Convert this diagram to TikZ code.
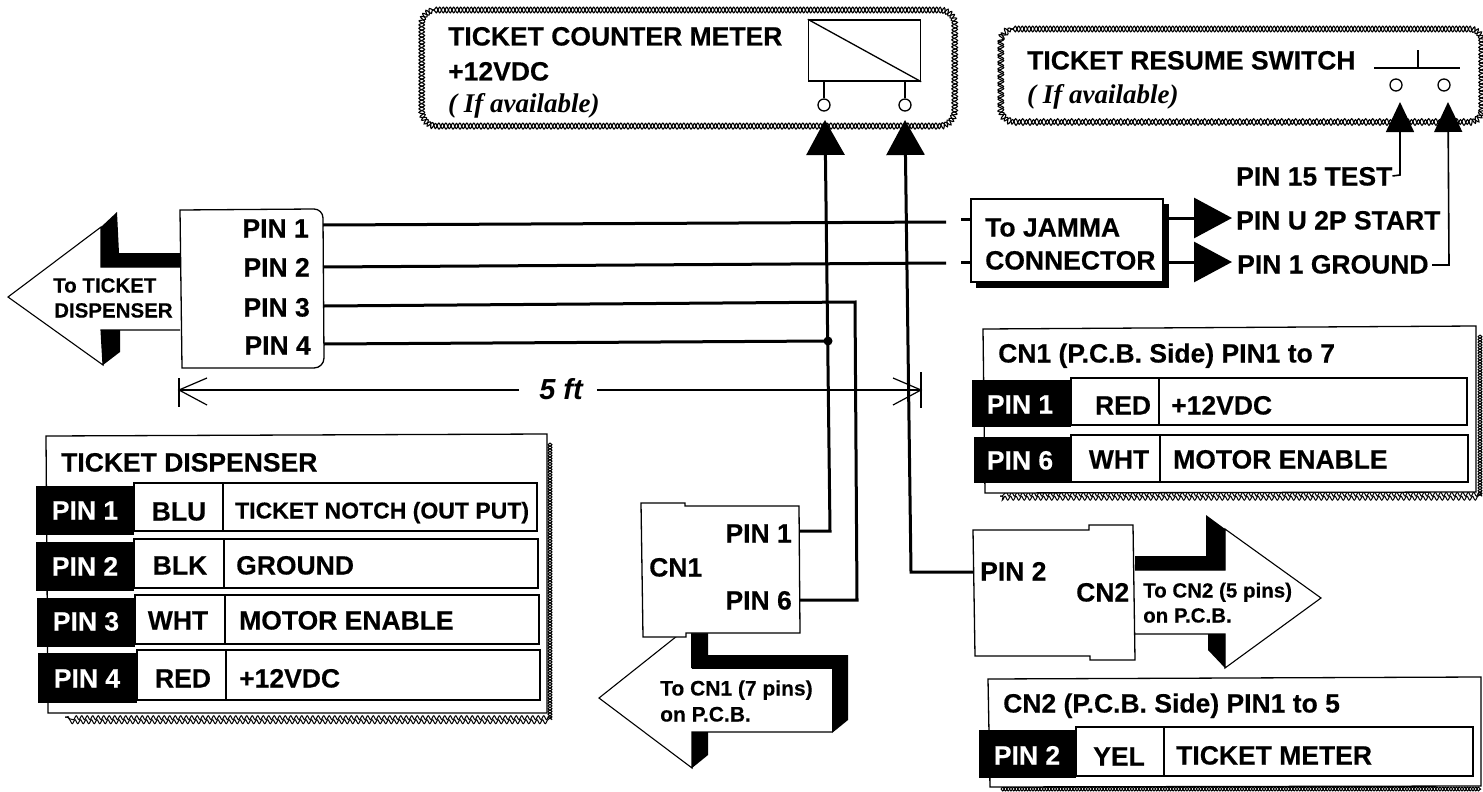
\documentclass[tikz,border=0pt]{standalone}
\usepackage{fontspec}
\setmainfont{Liberation Sans}[BoldFeatures={FakeBold=0.35}]
\newfontfamily\serifit{Liberation Serif}
\usetikzlibrary{arrows.meta,decorations.pathmorphing}
\tikzset{
  lab/.style={inner sep=0pt,font=\bfseries\fontsize{26.5}{30}\selectfont,text height=19pt,text depth=0pt},
  labw/.style={lab,anchor=west},
  labe/.style={lab,anchor=east},
  small/.style={inner sep=0pt,anchor=west,font=\bfseries\fontsize{21}{24}\selectfont,text height=15pt,text depth=0pt},
  note/.style={inner sep=0pt,anchor=west,font=\serifit\bfseries\itshape\fontsize{27}{30}\selectfont,text height=18pt,text depth=0pt},
  wire/.style={draw=black,line width=3pt},
  thin wire/.style={draw=black,line width=1.6pt},
  head/.style={-{Triangle[length=35pt,width=38pt]}},
  shead/.style={-{Triangle[length=30pt,width=28pt]}},
  jhead/.style={-{Triangle[length=38pt,width=40pt]}},
  outline/.style={draw=black,line width=1.3pt,fill=white},
  chainA/.style={draw=black,line width=1.1pt,decorate,decoration={snake,segment length=7pt,amplitude=2.8pt}},
  chainB/.style={draw=black,line width=1.1pt,decorate,decoration={snake,segment length=7pt,amplitude=2.8pt,mirror}},
  shadA/.style={draw=black,line width=1pt,decorate,decoration={snake,segment length=5.5pt,amplitude=2pt}},
  shadB/.style={draw=black,line width=1pt,decorate,decoration={snake,segment length=5.5pt,amplitude=2pt,mirror}},
  pin/.style={circle,draw=black,line width=1.3pt,fill=white,minimum size=12pt,inner sep=0pt},
  dim/.style={draw=black,line width=1.2pt},
  celltxt/.style={inner sep=0pt,font=\bfseries\fontsize{26.5}{30}\selectfont,text height=19pt,text depth=0pt}
}
\newcommand{\tablerow}[8]{%
  \fill[black] (#1) rectangle (#2);
  \draw[outline] (#3) rectangle (#4);
  \draw[line width=1.3pt] (#5) -- (#6);
  #7
  #8
}
\begin{document}
\begin{tikzpicture}[x=1pt,y=-1pt]
\useasboundingbox (0,0) rectangle (1483,792);
\fill[white] (0,0) rectangle (1483,792);

% ---------- ticket counter meter box
\newcommand{\meterbox}{(434,10) -- (938,10) to[out=0,in=90] (953,24) -- (953,110) to[out=-90,in=0] (938,126) -- (434,126) to[out=180,in=-90] (420,110) -- (420,24) to[out=90,in=180] cycle}
\fill[white] \meterbox;
\draw[chainA] \meterbox;
\draw[chainB] \meterbox;
\node[labw] (metertitle) at (448,36) {TICKET COUNTER METER};
\node[labw] (metervolt) at (448,71) {+12VDC};
\node[note] (meternote) at (448,103) {( If available)};
\node[draw=black,line width=1.4pt,minimum width=112pt,minimum height=61pt,inner sep=0pt] (coil) at (864.5,50.5) {};
\draw[line width=1.3pt] (coil.north west) -- (coil.south east);
\node[pin] (m1) at (824,105) {};
\node[pin] (m2) at (905,105) {};
\draw[line width=1.3pt] (m1 |- coil.south) -- (m1.north);
\draw[line width=1.3pt] (m2 |- coil.south) -- (m2.north);

% ---------- ticket resume switch box
\newcommand{\switchbox}{(1013,29) -- (1468,29) to[out=0,in=90] (1480,41) -- (1480,109) to[out=-90,in=0] (1468,122) -- (1013,122) to[out=180,in=-90] (999,109) -- (999,41) to[out=90,in=180] cycle}
\fill[white] \switchbox;
\draw[chainA] \switchbox;
\draw[chainB] \switchbox;
\node[labw] (switchtitle) at (1027,60) {TICKET RESUME SWITCH};
\node[note] (switchnote) at (1027,94) {( If available)};
\coordinate (swl) at (1374,68);
\coordinate (swr) at (1460,68);
\coordinate (swm) at (1418,68);
\coordinate (swt) at (1418,50);
\draw[line width=1.3pt] (swl) -- (swr);
\draw[line width=1.3pt] (swm) -- (swt);
\node[pin] (s1) at (1396,85) {};
\node[pin] (s2) at (1444,85) {};

% ---------- dispenser arrow
\draw[outline,line width=1.1pt] (180,267) -- (101,267) -- (101,227) -- (8,297) -- (103,365) -- (101,330) -- (180,330);
\fill[black] (117,212) -- (101,227) -- (101,267) -- (180,267) -- (180,253) -- (119,253) -- cycle;
\fill[black] (101,330) -- (120,330) -- (120,352) -- (103,365) -- cycle;
\node[small,font=\bfseries\fontsize{20.5}{24}\selectfont] (disp1) at (53,285) {To TICKET};
\node[small,font=\bfseries\fontsize{20.5}{24}\selectfont] (disp2) at (54,310) {DISPENSER};
% dispenser connector box
\draw[outline] (180,210) -- (314,209) to[out=0,in=90] (323,218) -- (324,358) to[out=-90,in=0] (314,368) -- (182,368) -- cycle;
\node[labe] (p1) at (309,228) {PIN 1};
\node[labe] (p2) at (310,267) {PIN 2};
\node[labe] (p3) at (310,307) {PIN 3};
\node[labe] (p4) at (311,345) {PIN 4};
\coordinate (w1) at (323,225);
\coordinate (w2) at (323,267);
\coordinate (w3) at (324,306);
\coordinate (w4) at (324,344);

% ---------- JAMMA box
\fill[black] (976,204) rectangle (1169,288);
\node[outline,minimum width=192pt,minimum height=83pt,inner sep=0pt] (jamma) at (1067,240.5) {};
\node[labw] (j1) at (985,227) {To JAMMA};
\node[labw] (j2) at (985,260) {CONNECTOR};
\coordinate (w1e) at (946,222);
\coordinate (w2e) at (946,263);
\coordinate (w1d) at (961,219);
\coordinate (w2d) at (961,262);
\coordinate (jw1) at (971,219);
\coordinate (jw2) at (971,262);
\draw[wire] (w1) -- (w1e);
\draw[wire] (w2) -- (w2e);
\draw[wire] (w1d) -- (jw1);
\draw[wire] (w2d) -- (jw2);

\node[labw] (pt) at (1236,176) {PIN 15 TEST};
\node[labw] (pu) at (1236,220) {PIN U 2P START};
\node[labw] (pg) at (1237,264) {PIN 1 GROUND};
\coordinate (ja) at (1168,218);
\coordinate (jb) at (1168,262);
\coordinate (jat) at (1232,218);
\coordinate (jbt) at (1232,262);
\draw[wire,jhead] (ja) -- (jat);
\draw[wire,jhead] (jb) -- (jbt);
\coordinate (ptc) at (1400,175);
\coordinate (pgc) at (1449,265);
\coordinate (pgs) at (1432,265);
\coordinate (s1t) at (1400,102);
\coordinate (s2t) at (1448,102);
\draw[thin wire,shead] (pt.east) -- (ptc) -- (s1t);
\draw[thin wire,shead] (pgs) -- (pgc) -- (s2t);

% ---------- CN1 arrow
\fill[white] (677,636) -- (599,698) -- (692,768) -- (692,732) -- (832,732) -- (832,668) -- (692,668) -- cycle;
\draw[line width=1.1pt] (677,636) -- (599,698) -- (692,768) -- (692,732) -- (832,732);
\draw[line width=1.1pt] (692,668) -- (832,668);
\fill[black] (691,633) -- (708,633) -- (708,655) -- (848,655) -- (848,720) -- (832,733) -- (832,668) -- (691,668) -- cycle;
\fill[black] (692,732) -- (708,732) -- (708,755) -- (692,768) -- cycle;
\node[small] (ca1) at (660,688) {To CN1 (7 pins)};
\node[small] (ca2) at (660,714) {on P.C.B.};
% CN1 box
\draw[outline] (641,503) -- (685,503) -- (685,506) -- (799,506) -- (800,633) -- (686,633) -- (686,637) -- (643,637) -- cycle;
\node[labe] (c1p1) at (792,533) {PIN 1};
\node[labe] (c1p6) at (792,600) {PIN 6};
\node[lab,anchor=west] (cn1) at (649,567) {CN1};
\coordinate (c1a) at (799,531);
\coordinate (c1b) at (800,600);

% ---------- CN2 arrow
\draw[outline,line width=1.1pt] (1135,570) -- (1225,570) -- (1225,529) -- (1321,598) -- (1225,668) -- (1225,634) -- (1135,634);
\fill[black] (1135,556) -- (1206,556) -- (1206,515) -- (1225,529) -- (1225,570) -- (1135,570) -- cycle;
\fill[black] (1208,634) -- (1225,634) -- (1225,668) -- (1208,650) -- cycle;
\node[small,font=\bfseries\fontsize{20.5}{24}\selectfont] (cb1) at (1143,590) {To CN2 (5 pins)};
\node[small,font=\bfseries\fontsize{20.5}{24}\selectfont] (cb2) at (1143,615) {on P.C.B.};
% CN2 box
\draw[outline] (973,530) -- (1089,530) -- (1089,525) -- (1133,525) -- (1135,660) -- (1090,660) -- (1090,656) -- (975,656) -- cycle;
\node[labw] (c2p2) at (980,571) {PIN 2};
\node[labw] (cn2) at (1076,592) {CN2};
\coordinate (c2a) at (973,572);

% ---------- wires to the meter
\coordinate (m1t) at (825,120);
\coordinate (m2t) at (905,120);
\draw[wire] (w3) -- (855,302) -- (857,600) -- (c1b);
\draw[wire] (w4) -- (828,341);
\fill[black] (828,341) circle (4.5pt);
\draw[wire,head] (c1a) -- (830,531) -- (m1t);
\draw[wire,head] (c2a) -- (911,572) -- (m2t);

% ---------- 5 ft dimension
\coordinate (dl) at (179,390);
\coordinate (dr) at (921,390);
\node[inner sep=0pt,font=\bfseries\itshape\fontsize{29}{32}\selectfont,text height=21pt,text depth=0pt] (five) at (561,389) {5 ft};
\draw[dim] (179,378) -- (179,407);
\draw[dim] (921,372) -- (921,408);
\draw[dim] (five.west) ++(-20,1) -- (dl);
\draw[dim] (five.east) ++(14,1) -- (dr);
\draw[dim] (207,378) -- (dl) -- (207,405);
\draw[dim] (893,378) -- (dr) -- (893,405);

% ---------- table: ticket dispenser
\draw[shadA] (550,443) -- (550,717) -- (65,717);
\draw[shadB] (550,443) -- (550,717) -- (65,717);
\draw[outline] (46,436) -- (547,434) -- (547,713) -- (48,713) -- cycle;
\node[labw] (t1) at (61,462) {TICKET DISPENSER};
\tablerow{36,486}{134,535}{134,483}{537,531}{223,483}{223,531}
 {\node[celltxt,text=white] (a1) at (85,510) {PIN 1}; \node[celltxt] (a2) at (179,511) {BLU};}
 {\node[labw,font=\bfseries\fontsize{23}{26}\selectfont,text height=17pt] (a3) at (235,510) {TICKET NOTCH (OUT PUT)};}
\tablerow{36,542}{134,591}{134,539}{538,588}{224,539}{224,588}
 {\node[celltxt,text=white] (b1) at (85,566) {PIN 2}; \node[celltxt] (b2) at (180,565) {BLK};}
 {\node[labw] (b3) at (236,565) {GROUND};}
\tablerow{37,598}{135,647}{135,595}{539,644}{225,595}{225,644}
 {\node[celltxt,text=white] (c1) at (86,621) {PIN 3}; \node[celltxt] (c2) at (178,620) {WHT};}
 {\node[labw] (c3) at (239,620) {MOTOR ENABLE};}
\tablerow{38,653}{137,703}{137,650}{540,700}{226,650}{226,700}
 {\node[celltxt,text=white] (d1) at (87,678) {PIN 4}; \node[celltxt] (d2) at (183,678) {RED};}
 {\node[labw] (d3) at (239,678) {+12VDC};}

% ---------- table: CN1
\draw[shadA] (1480,335) -- (1480,496) -- (1000,496);
\draw[shadB] (1480,335) -- (1480,496) -- (1000,496);
\draw[outline] (983,329) -- (1476,326) -- (1476,492) -- (985,493) -- cycle;
\node[labw] (e1) at (998,353) {CN1 (P.C.B. Side) PIN1 to 7};
\tablerow{972,380}{1071,427}{1071,378}{1467,425}{1159,378}{1159,425}
 {\node[celltxt,text=white] (f1) at (1020,404) {PIN 1}; \node[celltxt] (f2) at (1123,405) {RED};}
 {\node[labw] (f3) at (1171,405) {+12VDC};}
\tablerow{974,437}{1071,483}{1071,435}{1468,482}{1160,435}{1160,482}
 {\node[celltxt,text=white] (g1) at (1020,460) {PIN 6}; \node[celltxt] (g2) at (1119,459) {WHT};}
 {\node[labw] (g3) at (1173,459) {MOTOR ENABLE};}

% ---------- table: CN2
\draw[shadA] (1001,789) -- (1481,789);
\draw[shadB] (1001,789) -- (1481,789);
\draw[outline] (988,679) -- (1481,677) -- (1481,786) -- (990,787) -- cycle;
\node[labw] (h1) at (1003,703) {CN2 (P.C.B. Side) PIN1 to 5};
\tablerow{979,730}{1076,778}{1076,727}{1473,776}{1164,727}{1164,776}
 {\node[celltxt,text=white] (i1) at (1027,755) {PIN 2}; \node[celltxt] (i2) at (1119,756) {YEL};}
 {\node[labw] (i3) at (1176,755) {TICKET METER};}
\end{tikzpicture}
\end{document}
